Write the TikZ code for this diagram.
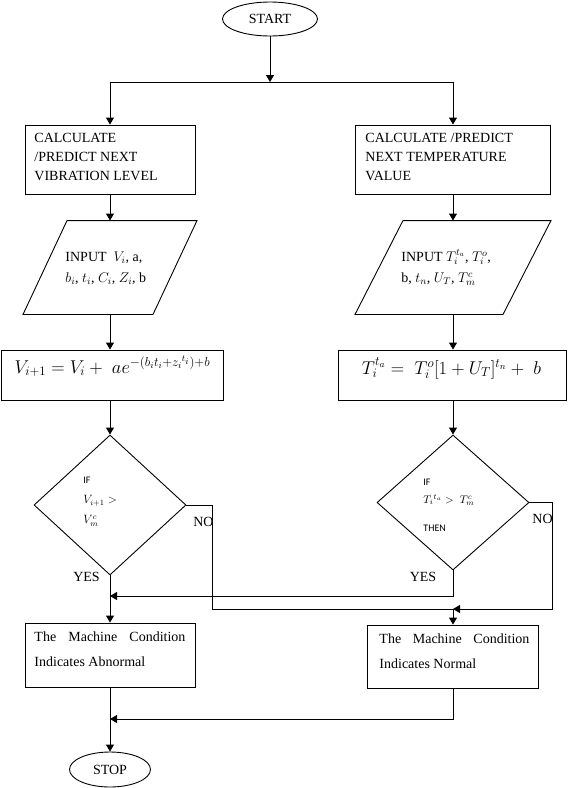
\RequirePackage{fix-cm}
\documentclass[tikz,border=0pt]{standalone}
\usepackage{fontspec}
\setmainfont{Liberation Serif}
\newfontfamily\calibfont{Carlito}
\usetikzlibrary{shapes.geometric,arrows.meta,calc}
\begin{document}
\begin{tikzpicture}[x=1pt,y=-1pt,line width=0.9pt,
  arr/.style={-{Triangle[length=7pt,width=8pt]}},
  box/.style={draw,rectangle,inner sep=0pt},
  term/.style={draw,ellipse,inner sep=0pt,font=\fontsize{14}{17}\selectfont},
  txt/.style={inner sep=0pt,align=left,font=\fontsize{14}{19}\selectfont},
  lab/.style={inner sep=0pt,font=\fontsize{14}{17}\selectfont},
  dec/.style={draw,diamond,inner sep=0pt},
  frm/.style={inner sep=0pt,anchor=base,font=\fontsize{18.5}{22}\selectfont}]
\useasboundingbox (0,0) rectangle (568,788);

% start
\node[term,minimum width=95pt,minimum height=34pt] (start) at (270,19) {START};
\coordinate (j) at (270,82);

% calculate boxes
\node[box,minimum width=170pt,minimum height=69pt] (c1) at (110,159.5) {};
\node[txt,anchor=west] (c1t) at (34,157) {CALCULATE\\/PREDICT NEXT\\VIBRATION LEVEL};
\node[box,minimum width=195pt,minimum height=69pt] (c2) at (453,159.5) {};
\node[txt,anchor=west] (c2t) at (365,157) {CALCULATE /PREDICT\\NEXT TEMPERATURE\\VALUE};

% input parallelograms
\node[minimum width=130pt,minimum height=93pt,inner sep=0pt] (p1) at (110,267.5) {};
\draw ($(p1.north)+(-43,0)$) -- ($(p1.north)+(87,0)$) -- ($(p1.south)+(43,0)$) -- ($(p1.south)+(-87,0)$) -- cycle;
\node[txt,font=\fontsize{14}{21}\selectfont,anchor=west] (p1t) at (65,268) {INPUT\ \ $V_i$, a,\\$b_i$, $t_i$, $C_i$, $Z_i$, b};
\node[minimum width=148pt,minimum height=93pt,inner sep=0pt] (p2) at (453,267.5) {};
\draw ($(p2.north)+(-50,0)$) -- ($(p2.north)+(98,0)$) -- ($(p2.south)+(50,0)$) -- ($(p2.south)+(-98,0)$) -- cycle;
\node[txt,font=\fontsize{14}{21}\selectfont,anchor=west] (p2t) at (401,267.5) {INPUT $T_i^{t_a}$, $T_i^o$,\\b, $t_n$, $U_T$, $T_m^c$};

% formula boxes
\node[box,minimum width=222pt,minimum height=50pt] (f1) at (112,375) {};
\node[frm] (f1t) at (112.5,373) {$V_{i+1} = V_i + \;ae^{-(b_it_i+z_i{}^{t_i})+b}$};
\node[box,minimum width=228pt,minimum height=50pt] (f2) at (452,375) {};
\node[frm] (f2t) at (451.5,374) {$T_i^{t_a} = \;T_i^o[1+U_T]^{t_n} + \;b$};

% decisions
\node[dec,minimum width=152pt,minimum height=140pt] (d1) at (110,505) {};
\node[inner sep=0pt,align=left,anchor=west,font=\fontsize{12}{20}\selectfont] (d1t) at (83,502)
  {{\calibfont\fontsize{10}{20}\selectfont IF}\\$V_{i+1} >$\\$V^c_m$};
\node[dec,minimum width=152pt,minimum height=135pt] (d2) at (453,502.5) {};
\node[inner sep=0pt,align=left,anchor=west,font=\fontsize{11}{18}\selectfont] (d2t) at (423,505)
  {{\calibfont\fontsize{10}{18}\selectfont IF}\\$T_i{}^{t_a} > \;T^c_m$\\[10pt]{\calibfont\fontsize{10}{18}\selectfont THEN}};

% result boxes
\node[box,minimum width=170pt,minimum height=64pt] (ab) at (110,655) {};
\node[txt,anchor=north west,font=\fontsize{14}{25}\selectfont] (abt) at (34,631.5)
  {\makebox[151pt][s]{The Machine Condition}\\Indicates Abnormal};
\node[box,minimum width=171pt,minimum height=63pt] (nm) at (453,656.5) {};
\node[txt,anchor=north west,font=\fontsize{14}{25}\selectfont] (nmt) at (379,633.5)
  {\makebox[150pt][s]{The Machine Condition}\\Indicates Normal};

% stop
\node[term,minimum width=81pt,minimum height=35pt] (stop) at (110,769.5) {STOP};

% junction coordinates
\coordinate (lno) at (212,609);
\coordinate (rno) at (552,609);
\coordinate (nj) at (453,609);
\coordinate (yj) at (110,596);
\coordinate (ej) at (110,719);

% connectors
\draw[arr] (start) -- (j);
\draw[arr] (j) -| (c1);
\draw[arr] (j) -| (c2);
\draw[arr] (c1) -- (p1);
\draw[arr] (c2) -- (p2);
\draw[arr] (p1.south) -- (p1.south |- f1.north);
\draw[arr] (p2.south) -- (p2.south |- f2.north);
\draw[arr] (d1.north |- f1.south) -- (d1.north);
\draw[arr] (d2.north |- f2.south) -- (d2.north);
\draw (d1.east) -| (lno) -- (nj);
\draw[arr] (d2.east) -| (rno) -- (nj);
\draw[arr] (nj) -- (nm);
\draw[arr] (d1) -- (ab);
\draw[arr] (d2.south) |- (yj);
\draw (ab) -- (ej);
\draw[arr] (nm.south) |- (ej);
\draw[arr] (ej) -- (stop);

% labels
\node[lab] (no1) at (203.5,522) {NO};
\node[lab] (no2) at (542.5,519) {NO};
\node[lab] (yes1) at (86.5,577) {YES};
\node[lab] (yes2) at (423,577) {YES};
\end{tikzpicture}
\end{document}
